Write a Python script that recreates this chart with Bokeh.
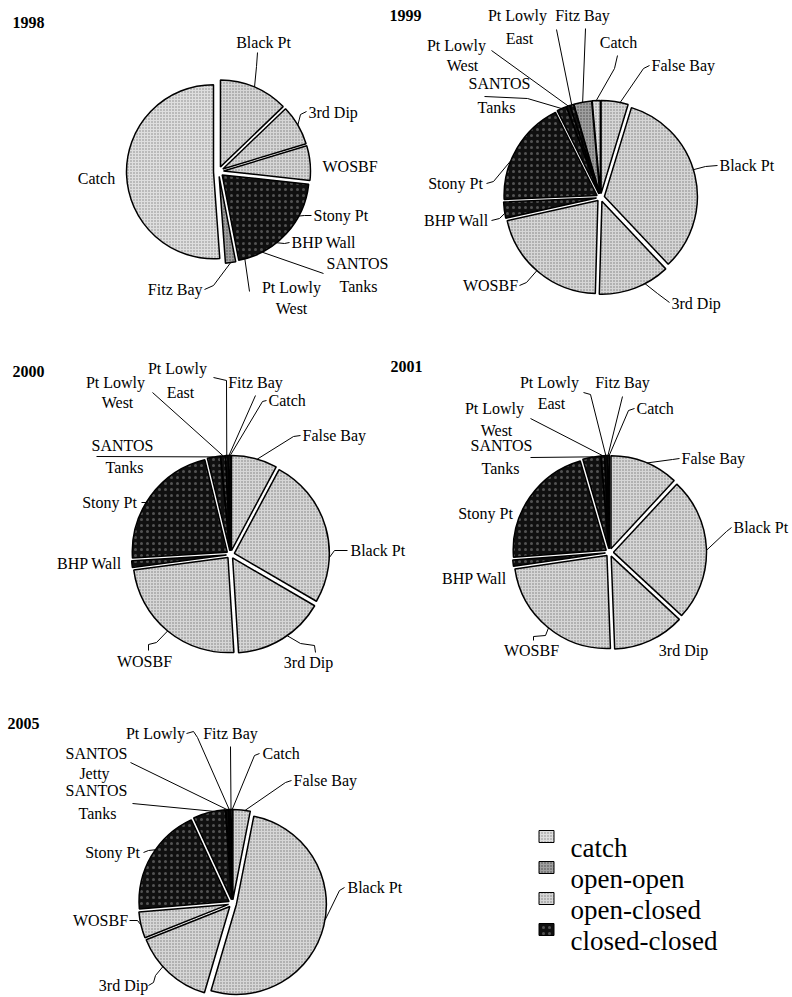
import math
from bokeh.plotting import figure
from bokeh.models import Range1d, ColumnDataSource
from bokeh.core.properties import value
from bokeh.embed import file_html
from bokeh.resources import INLINE

# ------------------------------------------------------------------ data
# shares (% of total per year), listed clockwise from 12 o'clock
sites_1998 = ["Black Pt", "3rd Dip", "WOSBF", "Stony Pt", "BHP Wall",
              "SANTOS Tanks", "Pt Lowly West", "Fitz Bay", "Catch"]
share_1998 = [12.8, 7.5, 6.4, 11.1, 2.8, 4.4, 1.9, 1.9, 51.1]

sites_std = ["False Bay", "Black Pt", "3rd Dip", "WOSBF", "BHP Wall", "Stony Pt",
             "SANTOS Tanks", "Pt Lowly West", "Pt Lowly East", "Fitz Bay", "Catch"]
share_1999 = [4.7, 33.3, 12.5, 21.1, 2.8, 18.3, 1.7, 0.6, 0.6, 3.1, 1.4]
share_2000 = [7.8, 25.6, 15.6, 23.9, 1.1, 22.2, 2.2, 0.8, 0.4, 0.3, 0.1]
share_2001 = [11.9, 25.0, 12.5, 23.3, 1.1, 21.7, 3.1, 0.6, 0.4, 0.3, 0.1]

sites_2005 = ["False Bay", "Black Pt", "3rd Dip", "WOSBF", "Stony Pt",
              "SANTOS Tanks", "SANTOS Jetty", "Pt Lowly", "Fitz Bay", "Catch"]
share_2005 = [3.1, 51.4, 14.4, 4.7, 19.4, 5.8, 0.4, 0.3, 0.3, 0.1]

years = ["1998", "1999", "2000", "2001", "2005"]
year_sites = [sites_1998, sites_std, sites_std, sites_std, sites_2005]
year_shares = [share_1998, share_1999, share_2000, share_2001, share_2005]

categories = ["catch", "open-open", "open-closed", "closed-closed"]
site_category = {
    "Catch": "catch",
    "Fitz Bay": "open-open",
    "False Bay": "open-closed", "Black Pt": "open-closed",
    "3rd Dip": "open-closed", "WOSBF": "open-closed",
    "BHP Wall": "closed-closed", "Stony Pt": "closed-closed",
    "SANTOS Tanks": "closed-closed", "SANTOS Jetty": "closed-closed",
    "Pt Lowly West": "closed-closed", "Pt Lowly East": "closed-closed",
    "Pt Lowly": "closed-closed",
}

# ------------------------------------------------------------------ styles / layout
cat_style = {
    "catch": dict(fill_color="#dedede", hatch_pattern="dot", hatch_color="#3a3a3a",
                  hatch_scale=3, hatch_weight=0.9, hatch_alpha=0.55),
    "open-open": dict(fill_color="#a0a0a0", hatch_pattern="dot", hatch_color="#202020",
                      hatch_scale=3, hatch_weight=1.0, hatch_alpha=0.7),
    "open-closed": dict(fill_color="#d6d6d6", hatch_pattern="dot", hatch_color="#3a3a3a",
                        hatch_scale=3, hatch_weight=0.9, hatch_alpha=0.6),
    "closed-closed": dict(fill_color="#101010", hatch_pattern="dot", hatch_color="#ffffff",
                          hatch_scale=6, hatch_weight=0.7, hatch_alpha=0.28),
}
SERIF = "Liberation Serif"

# pie centre (page px), radius, explode distance, explode black block together
pie_layout = {
    "1998": (218, 171, 87, 5, True),
    "1999": (600, 197, 93, 4, False),
    "2000": (230, 554, 95, 4, False),
    "2001": (609, 552, 93, 4, False),
    "2005": (232, 903, 90, 4, False),
}
title_pos = {"1998": (12, 22), "1999": (389, 15), "2000": (12, 371),
             "2001": (390, 366), "2005": (7, 723)}

# label: site, text lines (text, x, y), align, leader path, tip fraction in slice
LABELS = {
    "1998": [
        ("Black Pt", [("Black Pt", 263, 42)], "center", [(257, 52), (256, 66)], 0.5),
        ("3rd Dip", [("3rd Dip", 308, 112)], "left", [(306, 111), (300, 114)], 0.5),
        ("WOSBF", [("WOSBF", 322, 166)], "left", [], None),
        ("Stony Pt", [("Stony Pt", 313, 215)], "left", [(311, 215), (304, 215)], 0.55),
        ("BHP Wall", [("BHP Wall", 291, 242)], "left", [(289, 242), (284, 243)], 0.5),
        ("SANTOS Tanks", [("SANTOS", 357, 263), ("Tanks", 358, 286)], "center", [(323, 273)], 0.4),
        ("Pt Lowly West", [("Pt Lowly", 291, 287), ("West", 291, 308)], "center", [(249, 291)], 0.4),
        ("Fitz Bay", [("Fitz Bay", 202, 289)], "right", [(204, 289), (213, 285)], 0.5),
        ("Catch", [("Catch", 96, 178)], "center", [], None),
    ],
    "1999": [
        ("False Bay", [("False Bay", 651, 65)], "left", [(649, 65), (643, 68)], 0.7),
        ("Black Pt", [("Black Pt", 719, 165)], "left", [(717, 165), (705, 166)], 0.47),
        ("3rd Dip", [("3rd Dip", 671, 303)], "left", [(669, 302), (657, 293)], 0.35),
        ("WOSBF", [("WOSBF", 490, 285)], "center", [(519, 285), (526, 282)], 0.52),
        ("BHP Wall", [("BHP Wall", 456, 220)], "center", [(491, 220), (499, 218)], 0.3),
        ("Stony Pt", [("Stony Pt", 455, 183)], "center", [(486, 183), (493, 181)], 0.37),
        ("SANTOS Tanks", [("SANTOS", 499, 83), ("Tanks", 496, 107)], "center", [(484, 96), (527, 98)], 0.5),
        ("Pt Lowly West", [("Pt Lowly", 456, 45), ("West", 462, 65)], "center", [(491, 50)], 0.5),
        ("Pt Lowly East", [("Pt Lowly", 517, 15), ("East", 519, 38)], "center", [(556, 29)], 0.5),
        ("Fitz Bay", [("Fitz Bay", 582, 15)], "center", [(585, 28)], 0.5),
        ("Catch", [("Catch", 618, 42)], "center", [(617, 55), (614, 68)], 0.5),
    ],
    "2000": [
        ("Pt Lowly East", [("Pt Lowly", 177, 368), ("East", 180, 392)], "center", [(213, 377), (226, 380)], 0.5),
        ("Pt Lowly West", [("Pt Lowly", 115, 382), ("West", 117, 402)], "center", [(152, 392)], 0.5),
        ("Fitz Bay", [("Fitz Bay", 255, 382)], "center", [(255, 395)], 0.5),
        ("Catch", [("Catch", 268, 400)], "left", [(266, 400), (262, 401)], 0.5),
        ("False Bay", [("False Bay", 302, 435)], "left", [(300, 435), (293, 436)], 0.56),
        ("SANTOS Tanks", [("SANTOS", 122, 445), ("Tanks", 124, 467)], "center", [(96, 456)], 0.5),
        ("Stony Pt", [("Stony Pt", 109, 502)], "center", [(141, 502), (147, 502)], 0.45),
        ("BHP Wall", [("BHP Wall", 89, 563)], "center", [], None),
        ("WOSBF", [("WOSBF", 144, 661)], "center", [(148, 650), (148, 644), (156, 642)], 0.5),
        ("3rd Dip", [("3rd Dip", 308, 662)], "center", [(315, 652), (314, 645), (300, 643)], 0.44),
        ("Black Pt", [("Black Pt", 350, 550)], "left", [(347, 550), (334, 550)], 0.7),
    ],
    "2001": [
        ("Pt Lowly East", [("Pt Lowly", 549, 382), ("East", 551, 403)], "center", [(583, 392), (590, 394)], 0.5),
        ("Fitz Bay", [("Fitz Bay", 622, 382)], "center", [(622, 396)], 0.5),
        ("Catch", [("Catch", 636, 408)], "left", [(634, 408), (628, 410)], 0.5),
        ("Pt Lowly West", [("Pt Lowly", 494, 408), ("West", 496, 430)], "center", [(530, 418)], 0.5),
        ("SANTOS Tanks", [("SANTOS", 501, 445), ("Tanks", 500, 468)], "center", [(530, 457)], 0.6),
        ("False Bay", [("False Bay", 681, 458)], "left", [(679, 458), (672, 459)], 0.53),
        ("Black Pt", [("Black Pt", 733, 527)], "left", [(731, 527), (726, 531)], 0.51),
        ("Stony Pt", [("Stony Pt", 485, 513)], "center", [], None),
        ("BHP Wall", [("BHP Wall", 474, 578)], "center", [], None),
        ("WOSBF", [("WOSBF", 531, 650)], "center", [(533, 640), (533, 636), (545, 635)], 0.49),
        ("3rd Dip", [("3rd Dip", 683, 650)], "center", [], None),
    ],
    "2005": [
        ("Pt Lowly", [("Pt Lowly", 155, 733)], "center", [(186, 733), (193, 731), (197, 737)], 0.5),
        ("Fitz Bay", [("Fitz Bay", 230, 733)], "center", [(230, 746)], 0.5),
        ("Catch", [("Catch", 262, 753)], "left", [(259, 753), (254, 755)], 0.5),
        ("False Bay", [("False Bay", 293, 780)], "left", [(291, 780), (285, 782)], 0.7),
        ("SANTOS Jetty", [("SANTOS", 96, 753), ("Jetty", 94, 773)], "center", [(130, 762)], 0.5),
        ("SANTOS Tanks", [("SANTOS", 96, 790), ("Tanks", 97, 813)], "center", [(132, 803)], 0.65),
        ("Stony Pt", [("Stony Pt", 112, 852)], "center", [(143, 852), (148, 850)], 0.57),
        ("WOSBF", [("WOSBF", 100, 920)], "center", [(129, 920), (137, 920)], 0.5),
        ("3rd Dip", [("3rd Dip", 123, 985)], "center", [(148, 985), (153, 982), (155, 975)], 0.61),
        ("Black Pt", [("Black Pt", 347, 887)], "left", [(344, 887), (339, 890)], 0.48),
    ],
}

legend_rows = [836, 867, 898, 929]
legend_swatch_x, legend_text_x = 546, 570

# ------------------------------------------------------------------ figure
W, H = 792, 997


def Y(v):
    return H - v


p = figure(width=W, height=H, x_range=Range1d(0, W), y_range=Range1d(0, H),
           toolbar_location=None, output_backend="svg", min_border=0,
           x_axis_location=None, y_axis_location=None, outline_line_color=None)
p.grid.visible = False
p.background_fill_color = "white"

# ---- slices
cat_data = {c: dict(x=[], y=[], r=[], s=[], e=[], la=[], site=[], year=[]) for c in categories}
block = dict(x=[], y=[], r=[], s=[], e=[])
geom = {}
for year, sites, shares in zip(years, year_sites, year_shares):
    cx, cy, r, ex, merge_black = pie_layout[year]
    total = float(sum(shares))
    bounds = []
    a0 = 0.0
    for v in shares:
        a1 = a0 + 360.0 * v / total
        bounds.append((a0, a1))
        a0 = a1
    mids = [(b[0] + b[1]) / 2 for b in bounds]
    merged = [False] * len(sites)
    if merge_black:
        i = 0
        while i < len(sites):
            if site_category[sites[i]] == "closed-closed":
                j = i
                while j + 1 < len(sites) and site_category[sites[j + 1]] == "closed-closed":
                    j += 1
                m = (bounds[i][0] + bounds[j][1]) / 2
                for k in range(i, j + 1):
                    mids[k] = m
                    merged[k] = j > i
                if j > i:
                    mr = math.radians(m)
                    block["x"].append(cx + ex * math.sin(mr))
                    block["y"].append(Y(cy - ex * math.cos(mr)))
                    block["r"].append(r)
                    block["s"].append(math.radians(90 - bounds[j][1]))
                    block["e"].append(math.radians(90 - bounds[i][0]))
                i = j + 1
            else:
                i += 1
    for site, (a0, a1), md, mg in zip(sites, bounds, mids, merged):
        mid = math.radians(md)
        ox = cx + ex * math.sin(mid)
        oy = cy - ex * math.cos(mid)
        d = cat_data[site_category[site]]
        d["x"].append(ox)
        d["y"].append(Y(oy))
        d["r"].append(r)
        d["s"].append(math.radians(90 - a1))
        d["e"].append(math.radians(90 - a0))
        d["la"].append(0.0 if mg else 1.0)
        d["site"].append(site)
        d["year"].append(year)
        geom[(year, site)] = (ox, oy, a0, a1, r)

block_src = ColumnDataSource(block)
# solid underlay for runs of adjoining closed-closed slices (hides seams)
p.wedge(x="x", y="y", radius="r", start_angle="s", end_angle="e",
        direction="anticlock", source=block_src,
        fill_color="#101010", line_color=None)

for c in categories:
    p.wedge(x="x", y="y", radius="r", start_angle="s", end_angle="e",
            direction="anticlock", source=ColumnDataSource(cat_data[c]),
            line_color="black", line_alpha="la", line_width=1.5, **cat_style[c])

p.wedge(x="x", y="y", radius="r", start_angle="s", end_angle="e",
        direction="anticlock", source=block_src,
        fill_color=None, line_color="black", line_width=1.5)

# ---- labels & leader lines
texts = {"left": dict(x=[], y=[], t=[]), "center": dict(x=[], y=[], t=[]),
         "right": dict(x=[], y=[], t=[])}
lxs, lys = [], []
for year in years:
    for site, lines, align, path, frac in LABELS[year]:
        for t, x, y in lines:
            texts[align]["x"].append(x)
            texts[align]["y"].append(Y(y))
            texts[align]["t"].append(t)
        if frac is not None:
            ox, oy, a0, a1, r = geom[(year, site)]
            th = math.radians(a0 + frac * (a1 - a0))
            tip = (ox + r * math.sin(th), oy - r * math.cos(th))
            pts = list(path) + [tip]
            lxs.append([q[0] for q in pts])
            lys.append([Y(q[1]) for q in pts])

p.multi_line(xs=lxs, ys=lys, line_color="black", line_width=1)

for align, d in texts.items():
    p.text(x="x", y="y", text="t", source=ColumnDataSource(d),
           text_font=value(SERIF), text_font_size="16px",
           text_align=align, text_baseline="middle", text_color="black")

# ---- year titles
p.text(x=[title_pos[y][0] for y in years], y=[Y(title_pos[y][1]) for y in years],
       text=years, text_font=value(SERIF), text_font_size="16px",
       text_font_style="bold", text_align="left", text_baseline="middle",
       text_color="black")

# ---- legend
for c, row in zip(categories, legend_rows):
    p.rect(x=[legend_swatch_x], y=[Y(row)], width=15, height=12,
           line_color="black", line_width=1, **cat_style[c])
p.text(x=[legend_text_x] * 4, y=[Y(v + 11) for v in legend_rows], text=categories,
       text_font=value(SERIF), text_font_size="27px", text_align="left",
       text_baseline="alphabetic", text_color="black")

open("out.html", "w").write(file_html(p, INLINE))
